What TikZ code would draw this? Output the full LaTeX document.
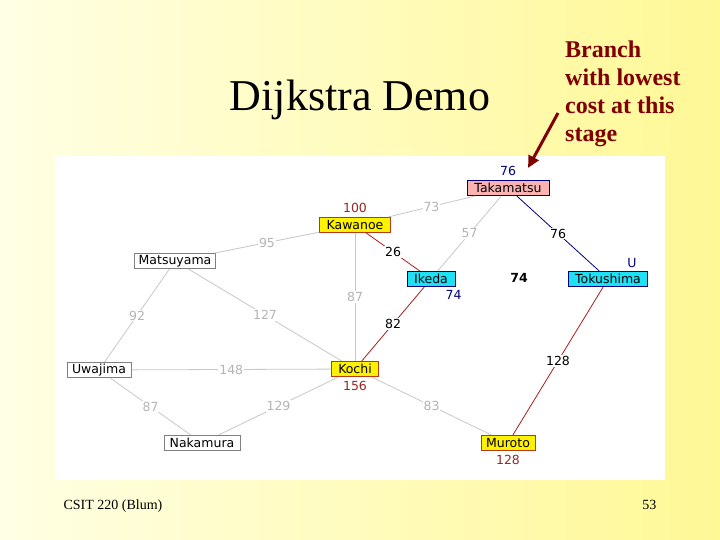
\documentclass[tikz,border=0pt]{standalone}
\usepackage{fontspec}
\setmainfont{Liberation Serif}
\newfontfamily\mapfont{DejaVu Sans}
\usetikzlibrary{arrows.meta,positioning}
\definecolor{navyblue}{RGB}{0,0,128}
\definecolor{maroon}{RGB}{128,0,0}
\definecolor{distred}{RGB}{150,40,40}
\definecolor{edgered}{RGB}{170,30,30}
\definecolor{edgegray}{RGB}{200,200,200}
\definecolor{labelgray}{RGB}{180,180,180}
\definecolor{pinkfill}{RGB}{250,178,178}
\definecolor{cyanfill}{RGB}{30,225,245}
\definecolor{slidepale}{RGB}{255,255,228}
\definecolor{slideyellow}{RGB}{255,248,150}
\definecolor{townborder}{RGB}{128,128,128}
\definecolor{hotborder}{RGB}{180,60,20}

\begin{document}
\begin{tikzpicture}[
  x=1pt, y=-1pt,
  mapfont/.style={font=\mapfont\fontsize{12.5}{12.5}\selectfont},
  town/.style={draw=townborder, line width=1pt, fill=white,
    minimum height=15pt, inner xsep=2pt, inner ysep=0pt, mapfont},
  visited/.style={town, draw=hotborder, fill=yellow},
  frontier/.style={town, draw=navyblue, fill=cyanfill},
  chosen/.style={town, draw=navyblue, fill=pinkfill},
  road/.style={draw=edgegray, line width=0.8pt},
  redroad/.style={draw=edgered, line width=0.8pt},
  blueroad/.style={draw=navyblue, line width=0.8pt},
  cost/.style={midway, fill=white, inner sep=1pt, text=labelgray, mapfont},
  bestcost/.style={cost, text=black}
]

% Slide
\useasboundingbox (0,0) rectangle (720,540);
\shade[left color=slidepale, right color=slideyellow] (0,0) rectangle (720,540);
\fill[white] (55,156) rectangle (665,480);

\node[anchor=base, font=\fontsize{44}{48}\selectfont] (title) at (360,111) {Dijkstra Demo};

\node[
  anchor=north west,
  align=left,
  inner sep=0pt,
  text=maroon,
  font=\bfseries\fontsize{24}{28}\selectfont
] (note) at (565,41) {Branch\\with lowest\\cost at this\\stage};

% Towns
\node[chosen, minimum width=82pt] (takamatsu) at (508,188) {Takamatsu};
\node[visited, minimum width=71pt] (kawanoe) at (355,225) {Kawanoe};
\node[town, minimum width=81pt] (matsuyama) at (175,261) {Matsuyama};
\node[frontier, minimum width=48pt] (ikeda) at (431,279) {Ikeda};
\node[frontier, minimum width=79pt] (tokushima) at (608,279) {Tokushima};
\node[town, minimum width=64pt] (uwajima) at (99,370) {Uwajima};
\node[visited, minimum width=47pt] (kochi) at (355,369) {Kochi};
\node[town, minimum width=76pt] (nakamura) at (202,443) {Nakamura};
\node[visited, minimum width=54pt] (muroto) at (508,443) {Muroto};

% Roads
\draw[road] (kawanoe) -- node[cost] {73} (takamatsu);
\draw[road] (takamatsu) -- node[cost] {57} (ikeda);
\draw[blueroad] (takamatsu) -- node[bestcost] {76} (tokushima);
\draw[redroad] (kawanoe) -- node[bestcost] {26} (ikeda);
\draw[road] (matsuyama) -- node[cost] {95} (kawanoe);
\draw[road] (kawanoe) -- node[cost] {87} (kochi);
\draw[road] (matsuyama) -- node[cost] {92} (uwajima);
\draw[road] (matsuyama) -- node[cost] {127} (kochi);
\draw[redroad] (ikeda) -- node[bestcost] {82} (kochi);
\draw[redroad] (tokushima) -- node[bestcost] {128} (muroto);
\draw[road] (uwajima) -- node[cost] {148} (kochi);
\draw[road] (uwajima) -- node[cost] {87} (nakamura);
\draw[road] (nakamura) -- node[cost] {129} (kochi);
\draw[road] (kochi) -- node[cost] {83} (muroto);

% Distances
\node[mapfont, text=navyblue, above=1pt of takamatsu] (takadist) {76};
\node[mapfont, text=distred, above=1pt of kawanoe] (kawadist) {100};
\node[mapfont, text=navyblue, above=0pt of tokushima.north east, xshift=-16pt] (tokudist) {U};
\node[mapfont, text=navyblue, below=0pt of ikeda.south east, xshift=-2pt] (ikedadist) {74};
\node[mapfont, text=distred, below=1pt of kochi] (kochidist) {156};
\node[mapfont, text=distred, below=1pt of muroto] (murotodist) {128};
\node[mapfont, font=\mapfont\bfseries\fontsize{12.5}{12.5}\selectfont] (lowest) at (519,278) {74};

% Pointer
\coordinate (pointtail) at (558,113);
\coordinate (pointtip) at (528,168);
\draw[maroon, line width=3pt, -{Triangle[length=12pt,width=11pt]}] (pointtail) -- (pointtip);

% Footer
\node[anchor=base west, font=\fontsize{14}{16}\selectfont] (course) at (60,509) {CSIT 220 (Blum)};
\node[anchor=base east, font=\fontsize{14}{16}\selectfont] (page) at (660,509) {53};

\end{tikzpicture}
\end{document}
